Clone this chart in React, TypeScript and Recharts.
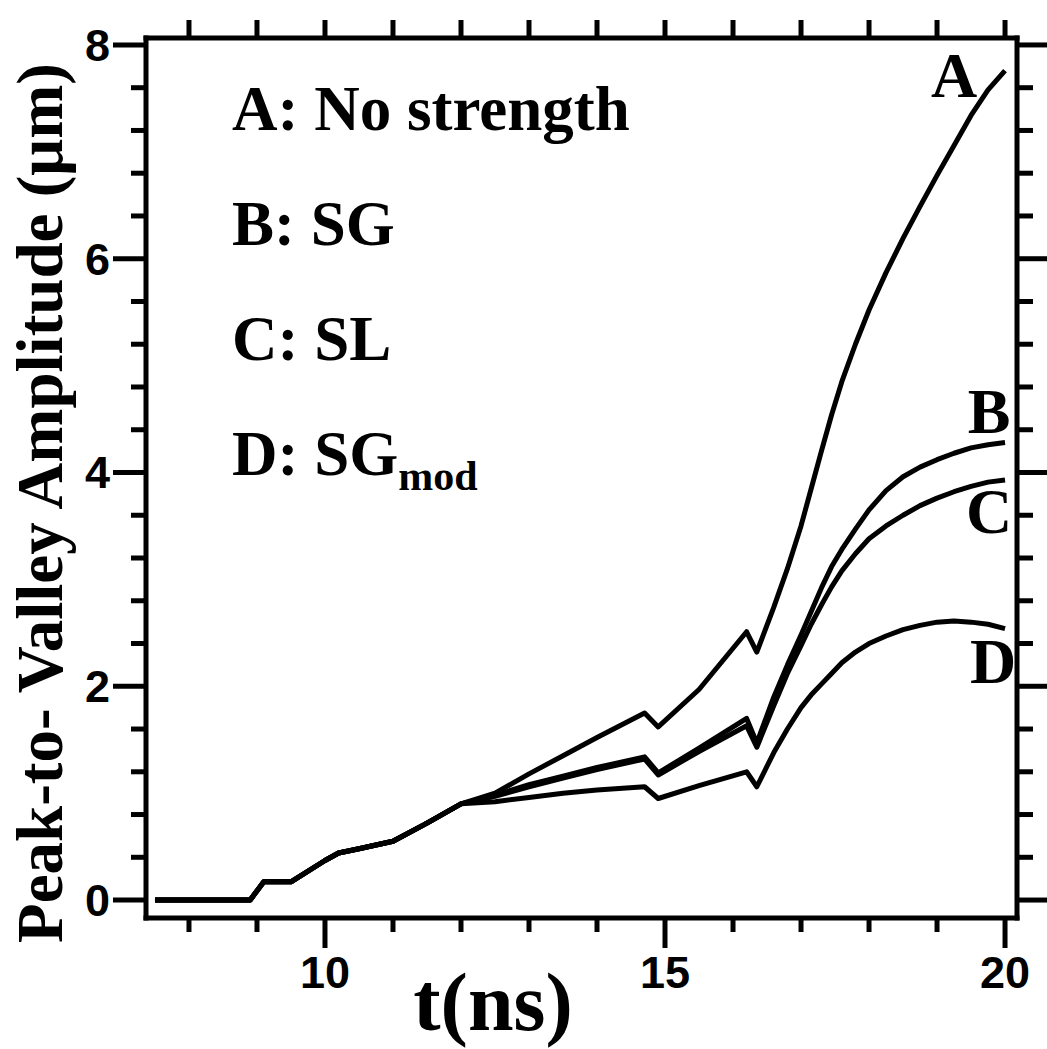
import { LineChart, Line, XAxis, YAxis } from 'recharts'

const tValues = [7.5, 8.9, 9.1, 9.5, 10, 10.2, 10.5, 11, 11.5, 12, 12.5, 13, 13.5, 14, 14.7, 14.9, 15.5, 16.2, 16.35, 16.6, 16.8, 17, 17.15, 17.3, 17.45, 17.6, 17.8, 18, 18.25, 18.5, 18.75, 19, 19.25, 19.5, 19.75, 20]

// A: No strength
const noStrength = [0, 0, 0.17, 0.17, 0.37, 0.44, 0.48, 0.55, 0.72, 0.9, 1.0, 1.18, 1.35, 1.52, 1.75, 1.62, 1.97, 2.51, 2.32, 2.74, 3.1, 3.5, 3.85, 4.2, 4.54, 4.85, 5.2, 5.52, 5.87, 6.19, 6.49, 6.78, 7.06, 7.34, 7.58, 7.76]
// B: SG
const sg = [0, 0, 0.17, 0.17, 0.37, 0.44, 0.48, 0.55, 0.72, 0.9, 0.98, 1.08, 1.16, 1.24, 1.34, 1.19, 1.42, 1.7, 1.47, 1.9, 2.2, 2.48, 2.7, 2.92, 3.12, 3.28, 3.47, 3.65, 3.83, 3.96, 4.05, 4.12, 4.18, 4.23, 4.26, 4.28]
// C: SL
const sl = [0, 0, 0.17, 0.17, 0.37, 0.44, 0.48, 0.55, 0.72, 0.9, 0.97, 1.06, 1.14, 1.22, 1.32, 1.17, 1.39, 1.63, 1.43, 1.82, 2.12, 2.38, 2.58, 2.76, 2.93, 3.08, 3.24, 3.38, 3.5, 3.6, 3.69, 3.76, 3.82, 3.87, 3.91, 3.93]
// D: SGmod
const sgMod = [0, 0, 0.17, 0.17, 0.37, 0.44, 0.48, 0.55, 0.72, 0.9, 0.92, 0.96, 1.0, 1.03, 1.06, 0.95, 1.07, 1.2, 1.06, 1.38, 1.6, 1.8, 1.92, 2.02, 2.12, 2.22, 2.32, 2.4, 2.47, 2.53, 2.57, 2.6, 2.61, 2.6, 2.58, 2.54]

const xTicks = [8, 9, 10, 11, 12, 13, 14, 15, 16, 17, 18, 19, 20]
const xMajor = [10, 15, 20]
const yTicks = [0, 0.4, 0.8, 1.2, 1.6, 2, 2.4, 2.8, 3.2, 3.6, 4, 4.4, 4.8, 5.2, 5.6, 6, 6.4, 6.8, 7.2, 7.6, 8]
const yMajor = [0, 2, 4, 6, 8]

const data = tValues.map((t, i) => ({ t, a: noStrength[i], b: sg[i], c: sl[i], d: sgMod[i] }))

const serif = '"Liberation Serif", "Times New Roman", serif'
const sans = '"Liberation Sans", Arial, sans-serif'
const axisLine = { stroke: '#000', strokeWidth: 5, strokeLinecap: 'square' as const }

const isMajorY = (v: number) => yMajor.some((m) => Math.abs(m - v) < 1e-6)

function BottomTick({ x, y, payload }: any) {
  const major = xMajor.includes(payload.value)
  return (
    <g>
      <line x1={x} y1={y} x2={x} y2={y + (major ? 30 : 14)} stroke="#000" strokeWidth={5} />
      {major && (
        <text x={x} y={y + 70} textAnchor="middle" fontFamily={sans} fontWeight="bold" fontSize={45} fill="#000">
          {payload.value}
        </text>
      )}
    </g>
  )
}

function TopTick({ x, y }: any) {
  return <line x1={x} y1={y} x2={x} y2={y - 18} stroke="#000" strokeWidth={5} />
}

function LeftTick({ x, y, payload }: any) {
  const major = isMajorY(payload.value)
  return (
    <g>
      <line x1={x} y1={y} x2={x - (major ? 33 : 15)} y2={y} stroke="#000" strokeWidth={5} />
      {major && (
        <text x={x - 36} y={y + 16} textAnchor="end" fontFamily={sans} fontWeight="bold" fontSize={45} fill="#000">
          {Math.round(payload.value)}
        </text>
      )}
    </g>
  )
}

function RightTick({ x, y, payload }: any) {
  const major = isMajorY(payload.value)
  return <line x1={x} y1={y} x2={x + (major ? 30 : 16)} y2={y} stroke="#000" strokeWidth={5} />
}

export default function App() {
  return (
    <div style={{ position: 'absolute', left: 0, top: 0, width: 1047, height: 1049, background: '#fff' }}>
      <LineChart width={1047} height={1049} data={data} margin={{ top: 0, right: 0, bottom: 0, left: 0 }}>
        <XAxis
          xAxisId="bottom"
          dataKey="t"
          type="number"
          domain={[7.368, 20.176]}
          allowDataOverflow
          ticks={xTicks}
          interval={0}
          height={131}
          tickSize={0}
          tickMargin={0}
          tickLine={false}
          axisLine={axisLine}
          tick={<BottomTick />}
        />
        <XAxis
          xAxisId="top"
          orientation="top"
          dataKey="t"
          type="number"
          domain={[7.368, 20.176]}
          allowDataOverflow
          ticks={xTicks}
          interval={0}
          height={38}
          tickSize={0}
          tickMargin={0}
          tickLine={false}
          axisLine={axisLine}
          tick={<TopTick />}
        />
        <YAxis
          yAxisId="left"
          type="number"
          domain={[-0.168, 8.065]}
          allowDataOverflow
          ticks={yTicks}
          interval={0}
          width={146}
          tickSize={0}
          tickMargin={0}
          tickLine={false}
          axisLine={axisLine}
          tick={<LeftTick />}
        />
        <YAxis
          yAxisId="right"
          orientation="right"
          type="number"
          domain={[-0.168, 8.065]}
          allowDataOverflow
          ticks={yTicks}
          interval={0}
          width={30}
          tickSize={0}
          tickMargin={0}
          tickLine={false}
          axisLine={axisLine}
          tick={<RightTick />}
        />
        {['a', 'b', 'c', 'd'].map((k) => (
          <Line
            key={k}
            xAxisId="bottom"
            yAxisId="left"
            type="linear"
            dataKey={k}
            stroke="#000"
            strokeWidth={5}
            strokeLinejoin="round"
            dot={false}
            isAnimationActive={false}
          />
        ))}
      </LineChart>
      <svg width={1047} height={1049} style={{ position: 'absolute', left: 0, top: 0, pointerEvents: 'none' }}>
        <g fontFamily={serif} fontWeight="bold" fill="#000">
          <text x={232} y={130} fontSize={63}>A: No strength</text>
          <text x={232} y={245} fontSize={63}>B: SG</text>
          <text x={232} y={360} fontSize={63}>C: SL</text>
          <text x={232} y={475} fontSize={63}>
            D: SG<tspan fontSize={42} dy={15}>mod</tspan>
          </text>
          <text x={954} y={97} fontSize={64} textAnchor="middle">A</text>
          <text x={989} y={433} fontSize={64} textAnchor="middle">B</text>
          <text x={989} y={533} fontSize={64} textAnchor="middle">C</text>
          <text x={993} y={683} fontSize={64} textAnchor="middle">D</text>
          <text x={493} y={1030} fontSize={82} textAnchor="middle">t(ns)</text>
          <text transform="translate(62, 503) rotate(-90)" fontSize={65} textAnchor="middle">
            Peak-to- Valley Amplitude (μm)
          </text>
        </g>
      </svg>
    </div>
  )
}
